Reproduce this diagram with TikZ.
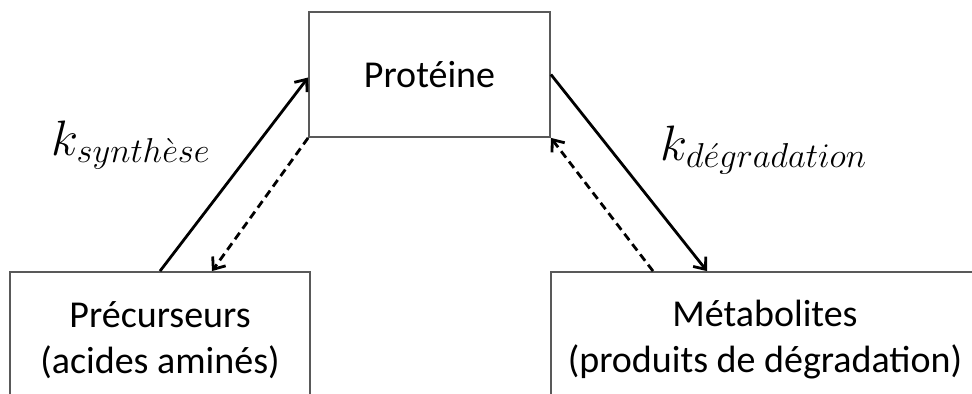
\documentclass[tikz,border=0pt]{standalone}
\usepackage{fontspec}
\setmainfont{Carlito}
\usepackage{amsmath}
\usetikzlibrary{arrows.meta,positioning}

\begin{document}
\begin{tikzpicture}[x=0.5pt,y=0.5pt,
  boite/.style={draw=black!65,line width=0.9pt,align=center,font=\fontsize{19}{23}\selectfont},
  flux/.style={line width=1.4pt,-{Straight Barb[length=5pt,width=8pt]}},
  retour/.style={flux,dash pattern=on 4pt off 2.5pt},
  taux/.style={font=\fontsize{26}{30}\selectfont}]
\useasboundingbox (0,0) rectangle (972,394);
\clip (0,0) rectangle (972,394);

\node[boite,minimum width=120.5pt,minimum height=62.5pt] (prot) at (429.5,319.5) {Prot\'eine};
\node[boite,minimum width=150pt,minimum height=68pt] (prec) at (160,54) {Pr\'ecurseurs\\(acides amin\'es)};
\node[boite,minimum width=214pt,minimum height=68pt] (meta) at (765,54) {M\'etabolites\\(produits de d\'egradation)};

\draw[flux] (prec.north) -- ([yshift=-1.5pt]prot.west);
\draw[retour] (prot.south west) -- ([xshift=26pt]prec.north);
\draw[flux] (prot.east) -- ([xshift=-29pt]meta.north);
\draw[retour] ([xshift=-56pt]meta.north) -- (prot.south east);

\node[taux] (ksyn) at (131,249) {$k_{synth\grave{e}se}$};
\node[taux] (kdeg) at (764,244) {$k_{d\acute{e}gradation}$};
\end{tikzpicture}
\end{document}
